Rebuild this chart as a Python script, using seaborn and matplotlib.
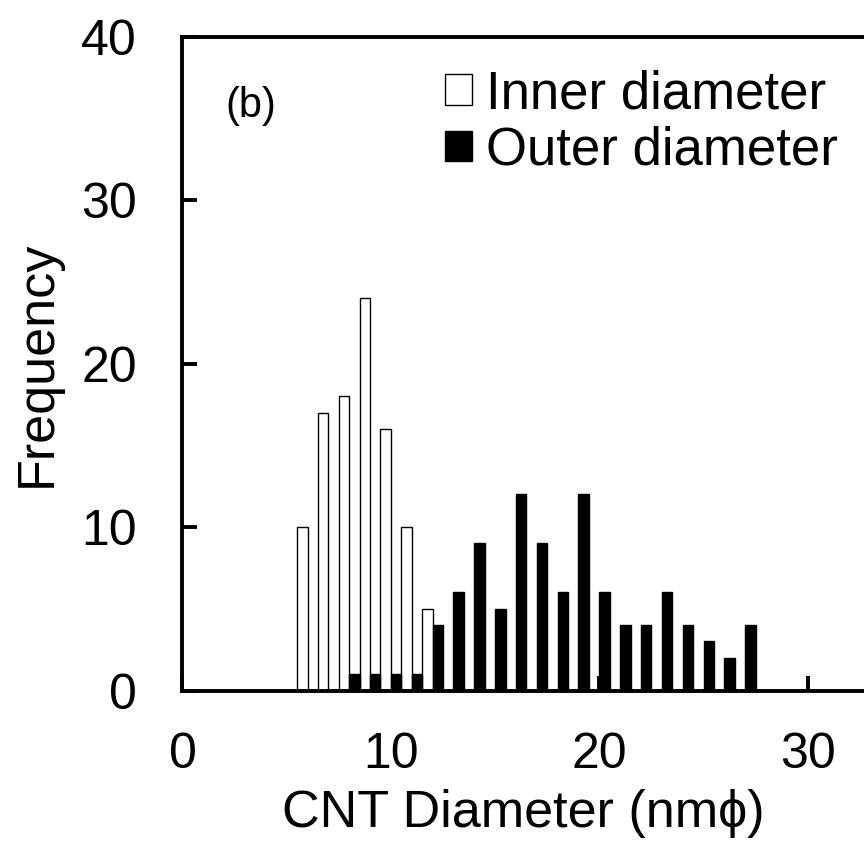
import matplotlib
matplotlib.use("Agg")
import matplotlib.pyplot as plt
import numpy as np
import pandas as pd
import seaborn as sns

# Histogram bins (nm) and counts for the two diameters
inner_bins = [6, 7, 8, 9, 10, 11, 12]
inner_counts = [10, 17, 18, 24, 16, 10, 5]

outer_bins = [8, 9, 10, 11, 12, 13, 14, 15, 16, 17, 18, 19, 20, 21, 22, 23, 24, 25, 26, 27]
outer_counts = [1, 1, 1, 1, 4, 6, 9, 5, 12, 9, 6, 12, 6, 4, 4, 6, 4, 3, 2, 4]

series_labels = ["Inner diameter", "Outer diameter"]
x_ticks = [0, 10, 20, 30]
y_ticks = [0, 10, 20, 30, 40]

df = pd.concat([
    pd.DataFrame({"diameter": inner_bins, "count": inner_counts, "kind": series_labels[0]}),
    pd.DataFrame({"diameter": outer_bins, "count": outer_counts, "kind": series_labels[1]}),
], ignore_index=True)

sns.set_style("white")
plt.rcParams["font.family"] = ["Liberation Sans", "DejaVu Sans"]
plt.rcParams["text.color"] = "black"
plt.rcParams["axes.labelcolor"] = "black"

fig = plt.figure(figsize=(8.64, 8.52), dpi=100)
ax = fig.add_axes([0.2112, 0.18955, 1 - 0.2112, 0.95657 - 0.18955])

sns.barplot(
    data=df, x="diameter", y="count", hue="kind", hue_order=series_labels,
    palette={series_labels[0]: "white", series_labels[1]: "black"},
    native_scale=True, width=1.0, dodge=True, gap=0,
    edgecolor="black", linewidth=1.0, errorbar=None, ax=ax,
)

ax.set_xlim(0, 32.70)
ax.set_ylim(0, 40)
ax.set_xticks(x_ticks)
ax.set_yticks(y_ticks)

for side in ["left", "top", "bottom"]:
    ax.spines[side].set_visible(True)
    ax.spines[side].set_color("black")
    ax.spines[side].set_linewidth(2.8)
ax.spines["right"].set_visible(False)

ax.tick_params(axis="both", which="major", direction="in", length=10.5, width=2.8,
               colors="black", labelcolor="black", labelsize=36,
               bottom=True, left=True, top=False, right=False)
ax.tick_params(axis="y", pad=33)
ax.tick_params(axis="x", pad=30)

ax.set_xlabel("CNT Diameter (nm\u03d5)", fontsize=37.5, labelpad=8, color="black")
ax.set_ylabel("Frequency", fontsize=37.5, labelpad=14, color="black")

# Legend without frame, square handles
old = ax.get_legend()
handles = old.legend_handles
labels = [t.get_text() for t in old.get_texts()]
old.remove()
ax.legend(handles, labels, loc="center left", bbox_to_anchor=(445 / 864, 1 - 122.5 / 852),
          bbox_transform=fig.transFigure, frameon=False, fontsize=38,
          handlelength=0.51, handleheight=0.51, handletextpad=0.26, labelspacing=0.12,
          borderpad=0, borderaxespad=0, labelcolor="black")

ax.text(251 / 864, 1 - 106 / 852, "(b)", transform=fig.transFigure, fontsize=30,
        ha="center", va="center", color="black")

fig.savefig("out.png", dpi=100)
